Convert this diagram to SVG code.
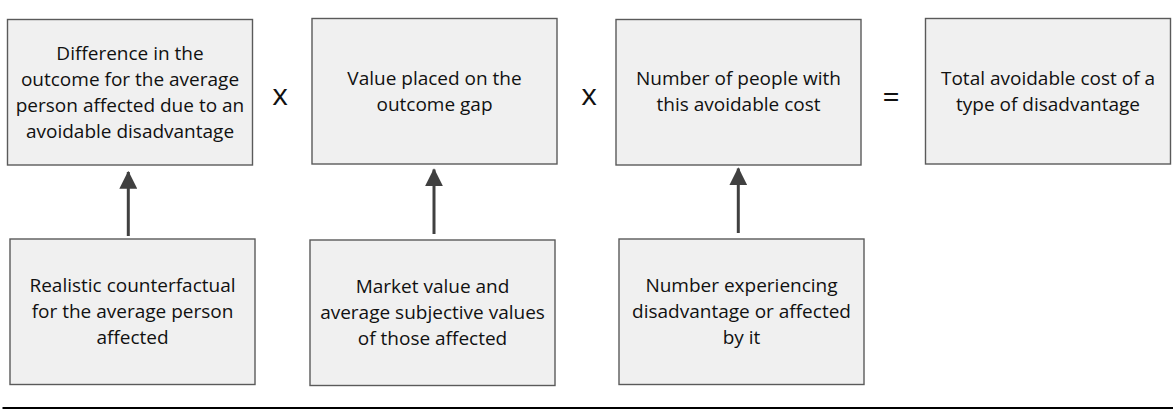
<svg xmlns="http://www.w3.org/2000/svg" width="1176" height="409" viewBox="0 0 1176 409">
  <defs>
    <style>
      .box { fill: #f0f0f0; stroke: #5a5a5a; stroke-width: 1.4; }
      .lbl { font-family: "Open Sans", Lato, "Liberation Sans", sans-serif; font-size: 19px; fill: #111; text-anchor: middle; }
      .op { font-family: "Open Sans", "Liberation Sans", sans-serif; font-size: 30px; fill: #111; text-anchor: middle; }
      .conn { stroke: #404040; stroke-width: 3; fill: none; marker-end: url(#head); }
    </style>
    <marker id="head" markerWidth="6" markerHeight="6" refX="5.6" refY="3" orient="auto" markerUnits="strokeWidth" viewBox="0 0 6 6">
      <path d="M0,0 L6,3 L0,6 Z" fill="#404040"/>
    </marker>
  </defs>

  <rect width="1176" height="409" fill="#fff"/>

  <!-- top row: the cost formula -->
  <g id="outcome-gap">
    <rect class="box" x="7.5" y="19.5" width="245" height="145.5"/>
    <text class="lbl" x="130" y="60">Difference in the</text>
    <text class="lbl" x="130" y="86">outcome for the average</text>
    <text class="lbl" x="130" y="112">person affected due to an</text>
    <text class="lbl" x="130" y="138">avoidable disadvantage</text>
  </g>
  <text id="op-times-1" class="op" x="280" y="105">x</text>

  <g id="value-placed">
    <rect class="box" x="312" y="18.5" width="245" height="145.5"/>
    <text class="lbl" x="434.5" y="85">Value placed on the</text>
    <text class="lbl" x="434.5" y="111">outcome gap</text>
  </g>
  <text id="op-times-2" class="op" x="589" y="105">x</text>

  <g id="number-people">
    <rect class="box" x="616" y="19.5" width="245" height="145.5"/>
    <text class="lbl" x="738.5" y="85">Number of people with</text>
    <text class="lbl" x="738.5" y="111">this avoidable cost</text>
  </g>
  <text id="op-equals" class="op" x="891" y="107">=</text>

  <g id="total-cost">
    <rect class="box" x="925.5" y="18.5" width="245" height="145.5"/>
    <text class="lbl" x="1048" y="85">Total avoidable cost of a</text>
    <text class="lbl" x="1048" y="111">type of disadvantage</text>
  </g>

  <!-- bottom row: inputs -->
  <g id="counterfactual">
    <rect class="box" x="10" y="239" width="245" height="145.5"/>
    <text class="lbl" x="132.5" y="292">Realistic counterfactual</text>
    <text class="lbl" x="132.5" y="318">for the average person</text>
    <text class="lbl" x="132.5" y="344">affected</text>
  </g>

  <g id="market-value">
    <rect class="box" x="310" y="240" width="245" height="145.5"/>
    <text class="lbl" x="432.5" y="293">Market value and</text>
    <text class="lbl" x="432.5" y="319">average subjective values</text>
    <text class="lbl" x="432.5" y="345">of those affected</text>
  </g>

  <g id="number-experiencing">
    <rect class="box" x="619" y="239" width="245" height="145.5"/>
    <text class="lbl" x="741.5" y="292">Number experiencing</text>
    <text class="lbl" x="741.5" y="318">disadvantage or affected</text>
    <text class="lbl" x="741.5" y="344">by it</text>
  </g>

  <!-- connectors: each input feeds the term above it -->
  <g id="connectors">
    <line class="conn" x1="128.3" y1="236" x2="128.3" y2="172"/>
    <line class="conn" x1="434" y1="234" x2="434" y2="169.5"/>
    <line class="conn" x1="738.3" y1="233" x2="738.3" y2="168.5"/>
  </g>

  <!-- rule under the figure -->
  <line x1="2.5" y1="408" x2="1173" y2="408" stroke="#000" stroke-width="1.8"/>
</svg>
